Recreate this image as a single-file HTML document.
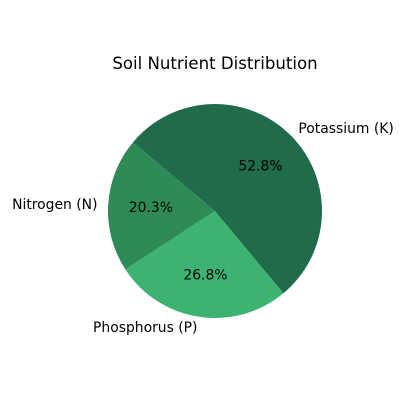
<!DOCTYPE html>
<html><head><meta charset="utf-8"><style>
html,body{margin:0;padding:0;background:#fff;}
svg{display:block;font-family:"DejaVu Sans","Liberation Sans",sans-serif;}
</style></head><body>
<svg id="chart" width="400" height="400">
<text x="215" y="69" text-anchor="middle" font-size="16.6" fill="#000">Soil Nutrient Distribution</text>
<g id="slices"></g>
</svg>
<script>
const categories = ["Nitrogen (N)", "Phosphorus (P)", "Potassium (K)"];
const values = [20.3, 26.8, 52.8];
const colors = ["#2e8b57", "#3cb371", "#1f6b4a"];
const startAngle = 140;
const cx = 215, cy = 211, r = 107;
const g = document.getElementById('slices');
const NS = "http://www.w3.org/2000/svg";
const total = values.reduce((a,b)=>a+b,0);
function pt(deg, rad){const a=deg*Math.PI/180;return [cx+rad*Math.cos(a), cy-rad*Math.sin(a)];}
let ang = startAngle;
values.forEach((v,i)=>{
  const sweep = v/total*360;
  const a0 = ang, a1 = ang+sweep;
  const p0 = pt(a0,r), p1 = pt(a1,r);
  const path = document.createElementNS(NS,'path');
  path.setAttribute('d',`M${cx},${cy} L${p0[0]},${p0[1]} A${r},${r} 0 ${sweep>180?1:0} 0 ${p1[0]},${p1[1]} Z`);
  path.setAttribute('fill',colors[i]);
  
  
  g.appendChild(path);
  const mid = (a0+a1)/2;
  const lp = pt(mid, r*1.1);
  const lt = document.createElementNS(NS,'text');
  lt.setAttribute('x',lp[0]); lt.setAttribute('y',lp[1]+4.8);
  lt.setAttribute('font-size','13.9');
  lt.setAttribute('text-anchor', Math.cos(mid*Math.PI/180)>=0 ? 'start' : 'end');
  lt.textContent = categories[i];
  
  
  g.appendChild(lt);
  const pp = pt(mid, r*0.6);
  const pct = document.createElementNS(NS,'text');
  pct.setAttribute('x',pp[0]); pct.setAttribute('y',pp[1]+4.8);
  pct.setAttribute('font-size','13.9');
  pct.setAttribute('text-anchor','middle');
  pct.textContent = v.toFixed(1)+'%';
  
  
  g.appendChild(pct);
  ang = a1;
});
</script>
</body></html>
